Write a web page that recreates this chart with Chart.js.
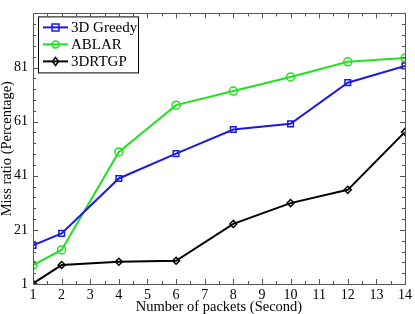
<!DOCTYPE html>
<html>
<head>
<meta charset="utf-8">
<script src="https://cdn.jsdelivr.net/npm/chart.js@4.4.0/dist/chart.umd.min.js"></script>
<style>
  html, body { margin: 0; padding: 0; background: #fff; }
  #wrap { width: 415px; height: 314px; position: relative; }
</style>
</head>
<body>
<div id="wrap"><canvas id="myChart"></canvas></div>
<script>
const packets = [1, 2, 4, 6, 8, 10, 12, 14];
const greedy = [15.3, 19.7, 40, 49.2, 58.1, 60.2, 75.4, 81.6];
const ablar = [8.0, 13.6, 49.8, 67.1, 72.3, 77.5, 83.1, 84.5];
const rtgp = [1.2, 8.0, 9.2, 9.6, 23.2, 30.9, 35.8, 57.2];
const yTicks = [1, 21, 41, 61, 81];

const serif = "'Liberation Serif', 'DejaVu Serif', serif";

function pts(ys) {
    return packets.map(function (x, i) { return {x: x, y: ys[i]}; });
}

// box frame with inward ticks, matlab style
const frameTicks = {
    id: 'frameTicks',
    afterDraw(chart) {
        const {ctx, chartArea: {left, right, top, bottom}} = chart;
        const xs = chart.scales.x, ys = chart.scales.y;
        ctx.save();
        ctx.strokeStyle = '#555';
        ctx.lineWidth = 1;
        ctx.beginPath();
        for (let v = 1; v <= 14; v += 0.5) {
            const px = Math.round(xs.getPixelForValue(v)) + 0.5;
            const len = Number.isInteger(v) ? 5 : 3;
            ctx.moveTo(px, bottom); ctx.lineTo(px, bottom - len);
            ctx.moveTo(px, top); ctx.lineTo(px, top + len);
        }
        for (let v = 1; v <= 101; v += 4) {
            const py = Math.round(ys.getPixelForValue(v)) + 0.5;
            const len = ((v - 1) % 20 === 0) ? 5 : 3;
            ctx.moveTo(left, py); ctx.lineTo(left + len, py);
            ctx.moveTo(right, py); ctx.lineTo(right - len, py);
        }
        ctx.stroke();
        ctx.strokeRect(Math.round(left) + 0.5, Math.round(top) + 0.5, Math.round(right - left), Math.round(bottom - top));
        ctx.restore();
    }
};

// legend box inside the top-left corner
const boxLegend = {
    id: 'boxLegend',
    afterDraw(chart) {
        const {ctx, chartArea: {left, top}} = chart;
        const x0 = left + 5, y0 = top + 3, w = 100, h = 56;
        ctx.save();
        ctx.fillStyle = '#fff';
        ctx.fillRect(x0, y0, w, h);
        ctx.strokeStyle = '#000';
        ctx.lineWidth = 1;
        ctx.strokeRect(x0 + 0.5, y0 + 0.5, w, h);
        ctx.font = '15px ' + serif;
        ctx.textBaseline = 'middle';
        chart.data.datasets.forEach(function (ds, i) {
            const cy = y0 + 11 + i * 17;
            ctx.strokeStyle = ds.borderColor;
            ctx.lineWidth = 2;
            ctx.beginPath();
            ctx.moveTo(x0 + 5, cy); ctx.lineTo(x0 + 30, cy);
            ctx.stroke();
            ctx.lineWidth = 1.5;
            const mx = x0 + 17.5;
            ctx.beginPath();
            if (ds.pointStyle === 'rect') {
                ctx.rect(mx - 3.5, cy - 3.5, 7, 7);
            } else if (ds.pointStyle === 'circle') {
                ctx.arc(mx, cy, 3.5, 0, Math.PI * 2);
            } else {
                ctx.moveTo(mx, cy - 4); ctx.lineTo(mx + 3, cy); ctx.lineTo(mx, cy + 4); ctx.lineTo(mx - 3, cy); ctx.closePath();
            }
            ctx.stroke();
            ctx.fillStyle = '#000';
            ctx.fillText(ds.label, x0 + 33, cy + 1);
        });
        ctx.restore();
    }
};

const ctx = document.getElementById('myChart').getContext('2d');
const myChart = new Chart(ctx, {
    type: 'line',
    data: {
        datasets: [{
            label: '3D Greedy',
            data: pts(greedy),
            borderColor: '#1a1ae0',
            backgroundColor: 'rgba(0,0,0,0)',
            pointStyle: 'rect',
            pointRadius: 4,
            pointBorderWidth: 1.5,
            borderWidth: 2
        }, {
            label: 'ABLAR',
            data: pts(ablar),
            borderColor: '#22e022',
            backgroundColor: 'rgba(0,0,0,0)',
            pointStyle: 'circle',
            pointRadius: 4,
            pointBorderWidth: 1.5,
            borderWidth: 2
        }, {
            label: '3DRTGP',
            data: pts(rtgp),
            borderColor: '#000',
            backgroundColor: 'rgba(0,0,0,0)',
            pointStyle: 'rectRot',
            pointRadius: 3.5,
            pointBorderWidth: 1.5,
            borderWidth: 2
        }]
    },
    options: {
        responsive: true,
        maintainAspectRatio: false,
        animation: false,
        devicePixelRatio: 1,
        layout: {
            padding: {top: 4, right: 5, left: 0, bottom: 0}
        },
        scales: {
            x: {
                type: 'linear',
                min: 1,
                max: 14,
                grid: {display: false, drawTicks: false},
                border: {display: false},
                ticks: {
                    stepSize: 1,
                    color: '#000',
                    padding: 3,
                    maxRotation: 0,
                    font: {family: serif, size: 14}
                },
                title: {
                    display: true,
                    text: 'Number of packets (Second)',
                    color: '#000',
                    padding: {top: 0, bottom: 0},
                    font: {family: serif, size: 14.5, lineHeight: 1}
                },
                afterFit(scale) { scale.height = 30; }
            },
            y: {
                min: 1,
                max: 101,
                grid: {display: false, drawTicks: false},
                border: {display: false},
                afterBuildTicks(scale) {
                    scale.ticks = yTicks.map(function (v) { return {value: v}; });
                },
                ticks: {
                    color: '#000',
                    padding: 5,
                    font: {family: serif, size: 14}
                },
                title: {
                    display: true,
                    text: 'Miss ratio (Percentage)',
                    color: '#000',
                    padding: {top: 0, bottom: 0},
                    font: {family: serif, size: 14.5, lineHeight: 1}
                },
                afterFit(scale) { scale.width = 33; }
            }
        },
        plugins: {
            legend: {display: false},
            tooltip: {enabled: false}
        }
    },
    plugins: [frameTicks, boxLegend]
});
</script>
</body>
</html>
